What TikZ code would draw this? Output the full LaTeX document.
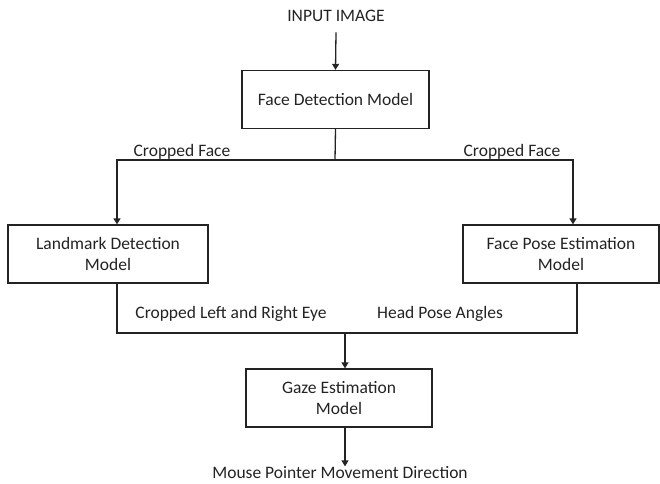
\documentclass[tikz,border=0pt]{standalone}
\usepackage{fontspec}
\setmainfont{Carlito}
\usetikzlibrary{arrows.meta}
\definecolor{ink}{RGB}{35,35,35}
\tikzset{modelbox/.style = {draw, line width=1.3pt, align=center,
                            minimum height=58pt, inner sep=2pt},
         flow/.style = {line width=1.3pt},
         flowarrow/.style = {flow, -{Triangle[width=7pt,length=6pt]}}}

\begin{document}
\begin{tikzpicture}[x=1pt, y=-1pt, color=ink,
                    font=\fontsize{17.5}{21}\selectfont]
    \useasboundingbox (0,0) rectangle (660,483);
    % models
    \node (input) at (336,16) {INPUT IMAGE};
    \node [modelbox, minimum width=187pt] (facedet) at (335.5,99.5) {Face Detection Model};
    \node [modelbox, minimum width=200pt] (landmark) at (108,254) {Landmark Detection\\Model};
    \node [modelbox, minimum width=196pt] (facepose) at (561,254) {Face Pose Estimation\\Model};
    \node [modelbox, minimum width=186pt] (gaze) at (339,398) {Gaze Estimation\\Model};
    \node [anchor=base] (mouse) at (340,478) {Mouse Pointer Movement Direction};
    % junction points
    \coordinate (split) at (335,160);
    \coordinate (splitL) at (117,160);
    \coordinate (splitR) at (573,160);
    \coordinate (joinL) at (117,333);
    \coordinate (joinR) at (577,333);
    \coordinate (join) at (345,333);
    % connectors
    \draw [flowarrow] ([yshift=-7pt]input.south) -- (facedet.north);
    \draw [flow] (facedet.south) -- (split);
    \draw [flowarrow] (split) -- (splitL) -- (landmark.north -| splitL);
    \draw [flowarrow] (split) -- (splitR) -- (facepose.north -| splitR);
    \draw [flow] (landmark.south -| joinL) -- (joinL) -- (joinR) -- (facepose.south -| joinR);
    \draw [flowarrow] (join) -- (gaze.north -| join);
    \draw [flowarrow] (gaze.south -| join) -- ([yshift=-4pt]mouse.north -| join);
    % labels
    \node (cropL) at (182,152) {Cropped Face};
    \node (cropR) at (512,152) {Cropped Face};
    \node (eyes) at (231,314) {Cropped Left and Right Eye};
    \node (angles) at (440,314) {Head Pose Angles};
\end{tikzpicture}
\end{document}
